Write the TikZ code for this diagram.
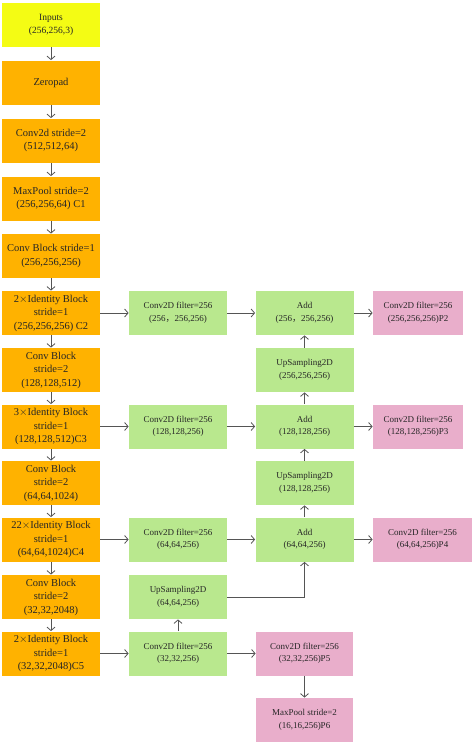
\documentclass[tikz,border=0pt]{standalone}
\usepackage{fontspec}
\setmainfont{Liberation Serif}
\newfontfamily\cjk{Noto Sans CJK SC}
\usetikzlibrary{arrows.meta}
\definecolor{inyellow}{HTML}{F4FC14}
\definecolor{resorange}{HTML}{FFB200}
\definecolor{fpngreen}{HTML}{B9E88E}
\definecolor{outpink}{HTML}{E9AECB}
\definecolor{linegray}{HTML}{555555}
\tikzset{
  box/.style={rectangle, inner sep=0pt, align=center, minimum height=44pt, text=black!85},
  stage/.style={box, fill=resorange, minimum width=98pt, font=\fontsize{10.5}{13.5}\selectfont},
  fpn/.style={box, fill=fpngreen, minimum width=98pt, font=\fontsize{9}{12.5}\selectfont},
  outp/.style={box, fill=outpink, minimum width=90pt, font=\fontsize{9}{12.5}\selectfont},
}
\newcommand{\inputnode}[3] {\node at (#1) (#2) [stage, fill=inyellow, font=\fontsize{9.5}{13}\selectfont] {#3};}
\newcommand{\stagenode}[3] {\node at (#1) (#2) [stage] {#3};}
\newcommand{\fpnnode}[3] {\node at (#1) (#2) [fpn] {#3};}
\newcommand{\outnode}[3] {\node at (#1) (#2) [outp] {#3};}
\newcommand{\nettransition}[2] {\draw [->] (#1) -- (#2);}
\newcommand{\fullcomma}{{\cjk ，}}

\begin{document}
\begin{tikzpicture}[x=1pt, y=-1pt, >={Straight Barb[length=3.5pt,width=8pt]},
  every path/.style={draw=linegray, line width=0.8pt}]
\useasboundingbox [draw=none, fill=white] (0,0) rectangle (474,744);

% backbone
\inputnode {51,25}    {in}  {Inputs\\(256,256,3)};
\stagenode {51,82.5}  {zp}  {Zeropad};
\stagenode {51,140.5} {c1a} {Conv2d stride=2\\(512,512,64)};
\stagenode {51,198.5} {c1}  {MaxPool stride=2\\(256,256,64) C1};
\stagenode {51,256}   {cb2} {Conv Block stride=1\\(256,256,256)};
\stagenode {51,313}   {c2}  {2$\times$Identity Block\\stride=1\\(256,256,256) C2};
\stagenode {51,370}   {cb3} {Conv Block\\stride=2\\(128,128,512)};
\stagenode {51,426.5} {c3}  {3$\times$Identity Block\\stride=1\\(128,128,512)C3};
\stagenode {51,483}   {cb4} {Conv Block\\stride=2\\(64,64,1024)};
\stagenode {51,539.5} {c4}  {22$\times$Identity Block\\stride=1\\(64,64,1024)C4};
\stagenode {51,597}   {cb5} {Conv Block\\stride=2\\(32,32,2048)};
\stagenode {51,653.5} {c5}  {2$\times$Identity Block\\stride=1\\(32,32,2048)C5};

% lateral convs
\fpnnode {178,313}   {l2}   {Conv2D filter=256\\(256\fullcomma256,256)};
\fpnnode {178,426.5} {l3}   {Conv2D filter=256\\(128,128,256)};
\fpnnode {178,539.5} {l4}   {Conv2D filter=256\\(64,64,256)};
\fpnnode {178,597}   {up5}  {UpSampling2D\\(64,64,256)};
\fpnnode {178,653.5} {l5}   {Conv2D filter=256\\(32,32,256)};

% top-down path
\fpnnode {304.5,313}   {add2} {Add\\(256\fullcomma256,256)};
\fpnnode {304.5,370}   {up3}  {UpSampling2D\\(256,256,256)};
\fpnnode {304.5,426.5} {add3} {Add\\(128,128,256)};
\fpnnode {304.5,483}   {up4}  {UpSampling2D\\(128,128,256)};
\fpnnode {304.5,539.5} {add4} {Add\\(64,64,256)};

% outputs
\outnode {418,313}     {p2} {Conv2D filter=256\\(256,256,256)P2};
\outnode {418,426.5}   {p3} {Conv2D filter=256\\(128,128,256)P3};
\node at (422.5,539.5) (p4) [outp, minimum width=99pt] {Conv2D filter=256\\(64,64,256)P4};
\node at (304.5,653.5) (p5) [outp, minimum width=97pt] {Conv2D filter=256\\(32,32,256)P5};
\node at (304.5,720)   (p6) [outp, minimum width=97pt] {MaxPool stride=2\\(16,16,256)P6};

\nettransition{in}{zp};
\nettransition{zp}{c1a};
\nettransition{c1a}{c1};
\nettransition{c1}{cb2};
\nettransition{cb2}{c2};
\nettransition{c2}{cb3};
\nettransition{cb3}{c3};
\nettransition{c3}{cb4};
\nettransition{cb4}{c4};
\nettransition{c4}{cb5};
\nettransition{cb5}{c5};

\nettransition{c2}{l2};
\nettransition{c3}{l3};
\nettransition{c4}{l4};
\nettransition{c5}{l5};

\nettransition{l2}{add2};
\nettransition{l3}{add3};
\nettransition{l4}{add4};
\nettransition{l5}{p5};
\nettransition{l5}{up5};
\draw [->] (up5.east) -| (add4.south);

\nettransition{add4}{up4};
\nettransition{up4}{add3};
\nettransition{add3}{up3};
\nettransition{up3}{add2};

\nettransition{add2}{p2};
\nettransition{add3}{p3};
\nettransition{add4}{p4};
\nettransition{p5}{p6};

\end{tikzpicture}
\end{document}
